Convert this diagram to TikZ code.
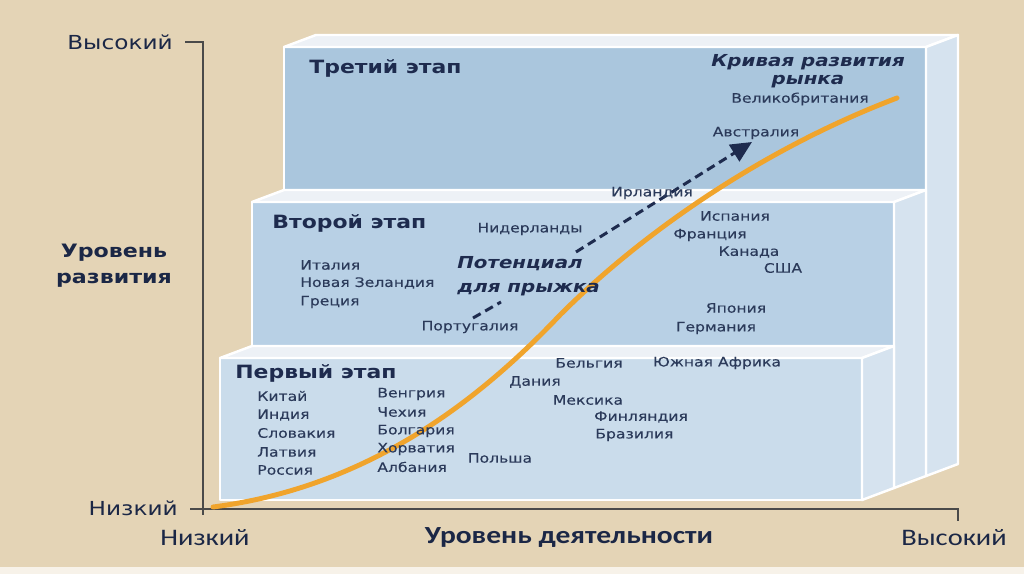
\documentclass[tikz,border=0pt]{standalone}
\usepackage{fontspec}
\setmainfont{DejaVu Sans}[FakeStretch=1.2]
\newfontfamily\calfont{Carlito}[FakeStretch=1.2]
\newfontfamily\lblfont{DejaVu Sans}[FakeStretch=1.2, FakeBold=0.25]
\usetikzlibrary{arrows.meta}
\definecolor{bg}{HTML}{E4D4B6}
\definecolor{navy}{HTML}{1E2B4E}
\definecolor{lbltxt}{HTML}{2B3A5A}
\definecolor{axisc}{HTML}{4A4A4A}
\definecolor{frontA}{HTML}{AAC6DD}
\definecolor{frontB}{HTML}{B8D0E5}
\definecolor{frontC}{HTML}{CADCEB}
\definecolor{topf}{HTML}{EDF1F6}
\definecolor{sidef}{HTML}{D6E3EF}
\definecolor{orangec}{HTML}{F0A42C}
\tikzset{
  face/.style={draw=white, line width=1.4pt, line join=round},
  lbl/.style={font=\lblfont\fontsize{7.4}{9}\selectfont, text=lbltxt, inner sep=0pt},
  stage/.style={font=\bfseries\fontsize{10.4}{12}\selectfont, text=navy, inner sep=0pt, anchor=west},
  bigit/.style={font=\bfseries\itshape\fontsize{9.4}{11}\selectfont, text=navy, inner sep=0pt, align=center},
  axlbl/.style={font=\fontsize{11}{13}\selectfont, text=navy!90!black, inner sep=0pt},
  botlbl/.style={font=\calfont\fontsize{13.5}{15}\selectfont, text=navy!90!black, inner sep=0pt},
  axisline/.style={draw=axisc, line width=1.2pt},
  jumpline/.style={draw=navy, line width=1.7pt, dash pattern=on 5pt off 3pt},
  curve/.style={draw=orangec, line width=2.8pt, line cap=round, line join=round}
}
\begin{document}
\begin{tikzpicture}[x=0.02cm, y=-0.02cm]
\useasboundingbox (0,0) rectangle (1024,574);
\fill[bg] (0,0) rectangle (1024,574);
\fill[white!70!bg] (0,567) rectangle (1024,574);

% box 3 (back)
\path[face, fill=frontA] (284,47) rectangle (926,476);
\path[face, fill=topf] (284,47) -- (316,35) -- (958,35) -- (926,47) -- cycle;
\path[face, fill=sidef] (926,47) -- (958,35) -- (958,464) -- (926,476) -- cycle;
% box 2
\path[face, fill=frontB] (252,202) rectangle (894,488);
\path[face, fill=topf] (252,202) -- (284,190) -- (926,190) -- (894,202) -- cycle;
\path[face, fill=sidef] (894,202) -- (926,190) -- (926,476) -- (894,488) -- cycle;
% box 1 (front)
\path[face, fill=frontC] (220,358) rectangle (862,500);
\path[face, fill=topf] (220,358) -- (252,346) -- (894,346) -- (862,358) -- cycle;
\path[face, fill=sidef] (862,358) -- (894,346) -- (894,488) -- (862,500) -- cycle;

% axes
\coordinate (ytop) at (203,42);
\coordinate (ytick) at (185,42);
\coordinate (ybot) at (203,515);
\coordinate (xleft) at (190,509);
\coordinate (xright) at (958,509);
\coordinate (xtick) at (958,521);
\draw[axisline] (ytick) -- (ytop) -- (ybot);
\draw[axisline] (xleft) -- (xright) -- (xtick);

\node[axlbl, anchor=east] (yhigh) at (173,42) {Высокий};
\node[axlbl, anchor=east] (ylow) at (178,508) {Низкий};
\node[axlbl, font=\bfseries\fontsize{10.5}{15}\selectfont, align=center] (ytitle) at (114,266) {Уровень\\развития};
\node[botlbl] (xlow) at (205,538) {Низкий};
\node[botlbl, font=\calfont\bfseries\fontsize{14}{15}\selectfont] (xtitle) at (569,538) {Уровень деятельности};
\node[botlbl] (xhigh) at (954,538) {Высокий};

% curve
\coordinate (c0) at (213,507);
\coordinate (cm) at (560,315);
\coordinate (c1) at (897,98);
\draw[curve] (c0) .. controls (360,488) and (470,410) .. (cm)
                  .. controls (640,235) and (760,150) .. (c1);

% stage titles
\node[stage] (s3) at (309,68) {Третий этап};
\node[stage] (s2) at (272,223) {Второй этап};
\node[stage] (s1) at (235,373) {Первый этап};

\node[bigit] (curvelbl) at (808,71) {Кривая развития\\[-1pt]рынка};
\node[bigit, align=left, anchor=west] (jump) at (457,276) {Потенциал\\[3pt]для прыжка};

% dashed arrow
\coordinate (ds) at (473,318);
\coordinate (d1) at (501,302);
\coordinate (d2) at (576,252);
\coordinate (de) at (752,142);
\draw[jumpline] (ds) -- (d1);
\draw[jumpline, -{Triangle[length=12pt, width=11pt]}] (d2) -- (de);

% stage 3 labels
\node[lbl] (gb) at (800,99) {Великобритания};
\node[lbl] (au) at (756,133) {Австралия};
\node[lbl] (ie) at (652,193) {Ирландия};

% stage 2 labels
\node[lbl] (nl) at (530,229) {Нидерланды};
\node[lbl, anchor=west] (it) at (300,265) {Италия};
\node[lbl, anchor=west] (nz) at (300,283) {Новая Зеландия};
\node[lbl, anchor=west] (gr) at (300,302) {Греция};
\node[lbl] (pt) at (470,327) {Португалия};
\node[lbl] (es) at (735,216) {Испания};
\node[lbl] (fr) at (710,235) {Франция};
\node[lbl] (ca) at (749,252) {Канада};
\node[lbl] (us) at (783,268) {США};
\node[lbl] (jp) at (736,308) {Япония};
\node[lbl] (de) at (716,328) {Германия};

% stage 1 labels
\node[lbl, anchor=west] (cn) at (257,396) {Китай};
\node[lbl, anchor=west] (in) at (257,415) {Индия};
\node[lbl, anchor=west] (sk) at (257,433) {Словакия};
\node[lbl, anchor=west] (lv) at (257,452) {Латвия};
\node[lbl, anchor=west] (ru) at (257,470) {Россия};
\node[lbl, anchor=west] (hu) at (377,394) {Венгрия};
\node[lbl, anchor=west] (cz) at (377,412) {Чехия};
\node[lbl, anchor=west] (bg) at (377,431) {Болгария};
\node[lbl, anchor=west] (hr) at (377,449) {Хорватия};
\node[lbl, anchor=west] (al) at (377,467) {Албания};
\node[lbl] (pl) at (500,458) {Польша};
\node[lbl] (dk) at (535,382) {Дания};
\node[lbl] (be) at (589,363) {Бельгия};
\node[lbl] (za) at (717,363) {Южная Африка};
\node[lbl] (mx) at (588,400) {Мексика};
\node[lbl] (fi) at (641,417) {Финляндия};
\node[lbl, anchor=west] (br) at (595,435) {Бразилия};
\end{tikzpicture}
\end{document}
